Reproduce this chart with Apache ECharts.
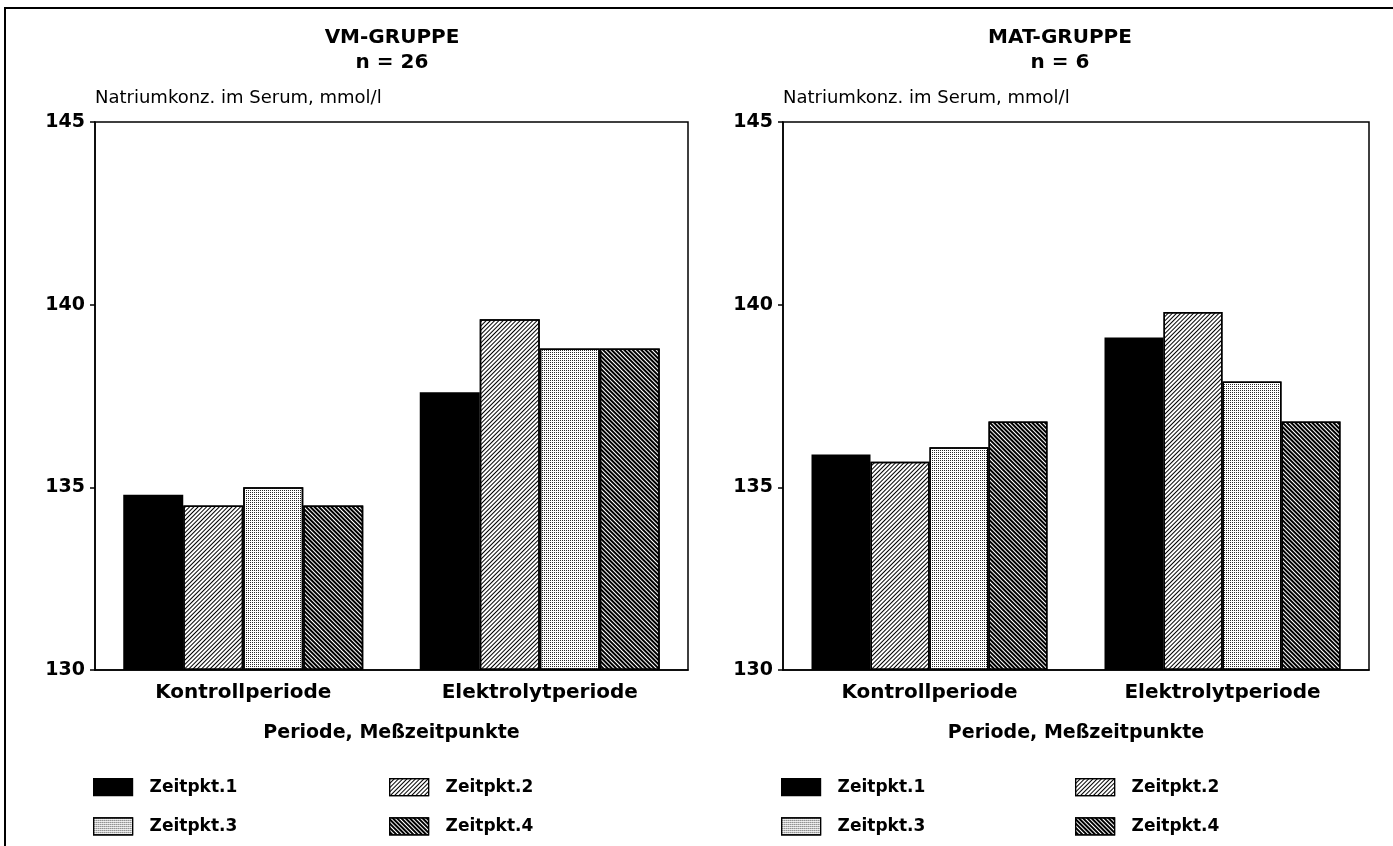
<!DOCTYPE html>
<html>
<head>
<meta charset="utf-8">
<script src="https://cdn.jsdelivr.net/npm/echarts@6/dist/echarts.min.js"></script>
<style>
  html, body { margin: 0; padding: 0; background: #fff; }
  #chart { width: 1393px; height: 846px; }
</style>
</head>
<body>
<div id="chart"></div>
<script>
// ---- data ----
const categories = ['Kontrollperiode', 'Elektrolytperiode'];
const seriesNames = ['Zeitpkt.1', 'Zeitpkt.2', 'Zeitpkt.3', 'Zeitpkt.4'];
const vmZ1 = [134.8, 137.6];
const vmZ2 = [134.5, 139.6];
const vmZ3 = [135.0, 138.8];
const vmZ4 = [134.5, 138.8];
const matZ1 = [135.9, 139.1];
const matZ2 = [135.7, 139.8];
const matZ3 = [136.1, 137.9];
const matZ4 = [136.8, 136.8];
const yMin = 130, yMax = 145, yStep = 5;
const titleVM = 'VM-GRUPPE';
const subVM = 'n = 26';
const titleMAT = 'MAT-GRUPPE';
const subMAT = 'n = 6';
const yName = 'Natriumkonz. im Serum, mmol/l';
const xName = 'Periode, Meßzeitpunkte';

// ---- styles ----
const FONT = 'DejaVu Sans';
const styles = [
  { color: '#000' },
  { color: '#fff', decal: { symbol: 'rect', symbolSize: 1, color: '#000', dashArrayX: [1, 0], dashArrayY: [1, 2], rotation: -Math.PI / 4 } },
  { color: '#fff', decal: { symbol: 'rect', symbolSize: 1, color: '#2a2a2a', dashArrayX: [1, 1], dashArrayY: [1, 1], rotation: 0 } },
  { color: '#fff', decal: { symbol: 'rect', symbolSize: 1, color: '#000', dashArrayX: [1, 0], dashArrayY: [2, 1], rotation: Math.PI / 4 } }
];

function makeSeries(dataArr, gridIdx, barW) {
  return dataArr.map((d, i) => ({
    name: seriesNames[i],
    type: 'bar',
    xAxisIndex: gridIdx,
    yAxisIndex: gridIdx,
    data: d,
    barWidth: barW,
    barGap: '0%',
    itemStyle: Object.assign({ borderColor: '#000', borderWidth: 1.5 }, styles[i]),
    emphasis: { disabled: true }
  }));
}

function xAxisCfg(gridIdx) {
  return {
    type: 'category', gridIndex: gridIdx, data: categories,
    axisLine: { lineStyle: { color: '#000', width: 1.5 } },
    axisTick: { show: false },
    axisLabel: { color: '#000', fontFamily: FONT, fontWeight: 'bold', fontSize: 20, margin: 23, verticalAlign: 'middle' },
    name: xName, nameLocation: 'middle', nameGap: 63,
    nameTextStyle: { color: '#000', fontFamily: FONT, fontWeight: 'bold', fontSize: 19, verticalAlign: 'middle' }
  };
}
function yAxisCfg(gridIdx) {
  return {
    type: 'value', gridIndex: gridIdx, min: yMin, max: yMax, interval: yStep, startValue: yMin,
    axisLine: { show: true, lineStyle: { color: '#000', width: 1.5 } },
    axisTick: { show: true, length: 5, lineStyle: { color: '#000', width: 1.5 } },
    splitLine: { show: false },
    axisLabel: { color: '#000', fontFamily: FONT, fontWeight: 'bold', fontSize: 19, margin: 10 },
    name: yName, nameLocation: 'end', nameGap: 24,
    nameTextStyle: { color: '#000', fontFamily: FONT, fontWeight: 'normal', fontSize: 18, align: 'left', verticalAlign: 'middle' }
  };
}
function legendCfg(left, names) {
  return {
    orient: 'vertical', left: left, top: 778, padding: 0,
    itemWidth: 39, itemHeight: 17, itemGap: 21,
    icon: 'rect', selectedMode: false,
    data: names,
    itemStyle: { borderColor: '#000', borderWidth: 1.2 },
    textStyle: { color: '#000', fontFamily: FONT, fontWeight: 'bold', fontSize: 17, padding: [0, 0, 0, 12] }
  };
}
function titleCfg(text, sub, cx) {
  return {
    text: text + '\n' + sub, left: cx, top: 25, textAlign: 'center', padding: 0,
    textStyle: { color: '#000', fontFamily: FONT, fontWeight: 'bold', fontSize: 20, lineHeight: 25 }
  };
}

const chart = echarts.init(document.getElementById('chart'), null, { renderer: 'canvas' });
chart.setOption({
  animation: false,
  backgroundColor: '#fff',
  title: [titleCfg(titleVM, subVM, 392), titleCfg(titleMAT, subMAT, 1060)],
  grid: [
    { left: 95, top: 122, width: 593, height: 548, show: true, borderColor: '#000', borderWidth: 1.5, backgroundColor: 'transparent' },
    { left: 783, top: 122, width: 586, height: 548, show: true, borderColor: '#000', borderWidth: 1.5, backgroundColor: 'transparent' }
  ],
  xAxis: [xAxisCfg(0), xAxisCfg(1)],
  yAxis: [yAxisCfg(0), yAxisCfg(1)],
  legend: [
    legendCfg(93, [seriesNames[0], seriesNames[2]]),
    legendCfg(389, [seriesNames[1], seriesNames[3]]),
    legendCfg(781, [seriesNames[0], seriesNames[2]]),
    legendCfg(1075, [seriesNames[1], seriesNames[3]])
  ],
  graphic: [{
    type: 'polyline', silent: true,
    shape: { points: [[5, 846], [5, 8], [1393, 8]] },
    style: { stroke: '#000', lineWidth: 2, fill: null }
  }],
  series: [].concat(
    makeSeries([vmZ1, vmZ2, vmZ3, vmZ4], 0, 60),
    makeSeries([matZ1, matZ2, matZ3, matZ4], 1, 59)
  )
});
</script>
</body>
</html>
